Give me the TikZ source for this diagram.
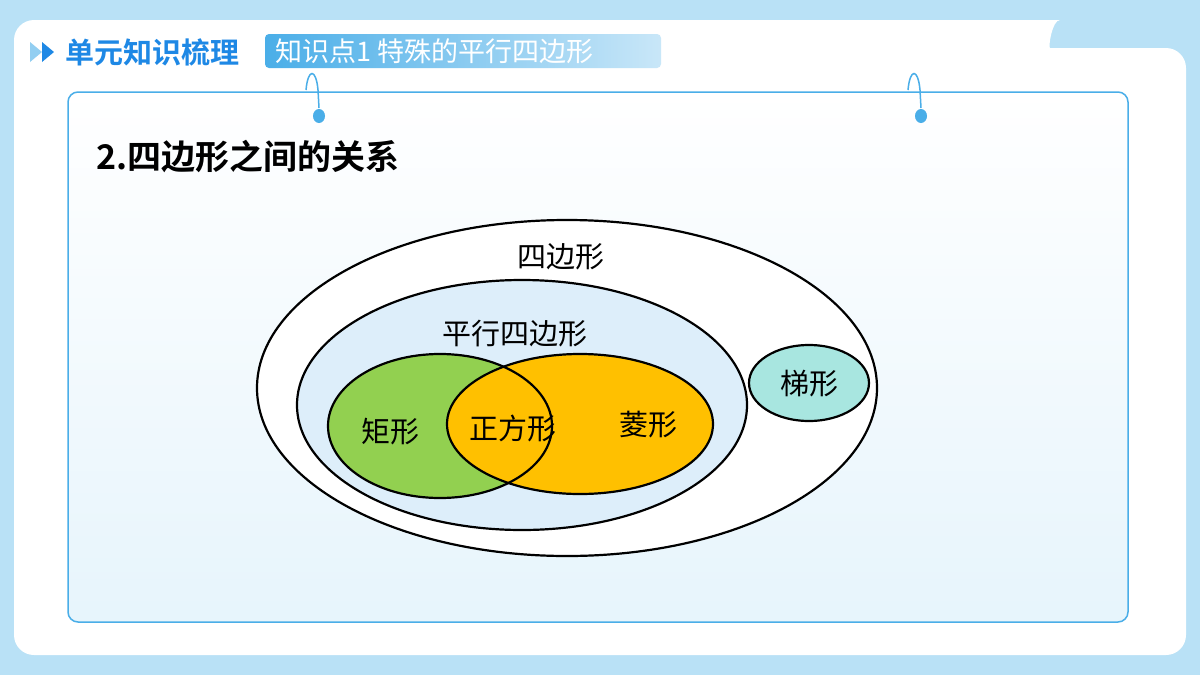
\documentclass[tikz,border=0pt]{standalone}
\usepackage{fontspec}
\newfontfamily\cjk{Noto Sans CJK SC}
\newfontfamily\cjkb{Noto Sans CJK SC Bold}
\usetikzlibrary{shapes.geometric}
\definecolor{bgblue}{HTML}{B9E1F6}
\definecolor{lineblue}{HTML}{4AAEE8}
\definecolor{titleblue}{HTML}{1E88E5}
\definecolor{paraFill}{HTML}{DDEEFA}
\definecolor{rectFill}{HTML}{92D050}
\definecolor{rhomFill}{HTML}{FFC000}
\definecolor{trapFill}{HTML}{A8E6E0}
\tikzset{
  venn/.style={draw=black,line width=2.2pt},
  lbl/.style={font=\cjk\fontsize{29}{29}\selectfont},
  hook/.style={draw=lineblue,line width=1.5pt}
}
\begin{document}
\begin{tikzpicture}[x=1pt,y=-1pt]
\useasboundingbox (0,0) rectangle (1200,675);
\fill[bgblue] (0,0) rectangle (1200,675);
% white panel with notch
\fill[white,rounded corners=20pt] (14,655) -- (14,20) -- (1040,20)
  .. controls (1052,20) and (1048,48) .. (1070,48) -- (1186,48) -- (1186,655) -- cycle;
% header
\fill[lineblue!60] (30,42) -- (42,52) -- (30,62) -- cycle;
\fill[titleblue] (42,42) -- (54,52) -- (42,62) -- cycle;
\node[anchor=west,text=titleblue,font=\cjkb\fontsize{29}{29}\selectfont] (unit) at (62,52) {单元知识梳理};
\shade[left color=lineblue,right color=lineblue!30,rounded corners=4pt] (265,34) rectangle (661,68);
\node[anchor=west,text=white,font=\cjk\fontsize{27}{27}\selectfont] (topic) at (272,51) {知识点1 特殊的平行四边形};
% content box
\shade[top color=white,bottom color=bgblue!35,rounded corners=10pt] (68,92) rectangle (1128,622);
\draw[lineblue,line width=1.5pt,rounded corners=10pt] (68,92) rectangle (1128,622);
\foreach \hx in {310,912}{
  \draw[hook] (\hx-4,90) .. controls (\hx-2,68) and (\hx+6,68) .. (\hx+8,90) -- (\hx+9,108);
  \fill[lineblue] (\hx+9,116) ellipse (6pt and 7pt);
}
\node[anchor=west,font=\cjkb\fontsize{34}{34}\selectfont] (title) at (93,157) {2.四边形之间的关系};
% venn diagram
\draw[venn,fill=white] (567,388) ellipse (310pt and 168pt);
\draw[venn,fill=paraFill] (522,405) ellipse (225pt and 125pt);
\fill[rectFill] (440,426) ellipse (112pt and 72pt);
\fill[rhomFill] (580,424) ellipse (133pt and 70pt);
\draw[venn] (440,426) ellipse (112pt and 72pt);
\draw[venn] (580,424) ellipse (133pt and 70pt);
\draw[venn,fill=trapFill] (809,383) ellipse (60pt and 38pt);
\node[lbl] (quad) at (561,257) {四边形};
\node[lbl] (para) at (515,334) {平行四边形};
\node[lbl] (rect) at (390,432) {矩形};
\node[lbl] (square) at (513,428) {正方形};
\node[lbl] (rhombus) at (648,425) {菱形};
\node[lbl] (trap) at (809,384) {梯形};
\end{tikzpicture}
\end{document}
